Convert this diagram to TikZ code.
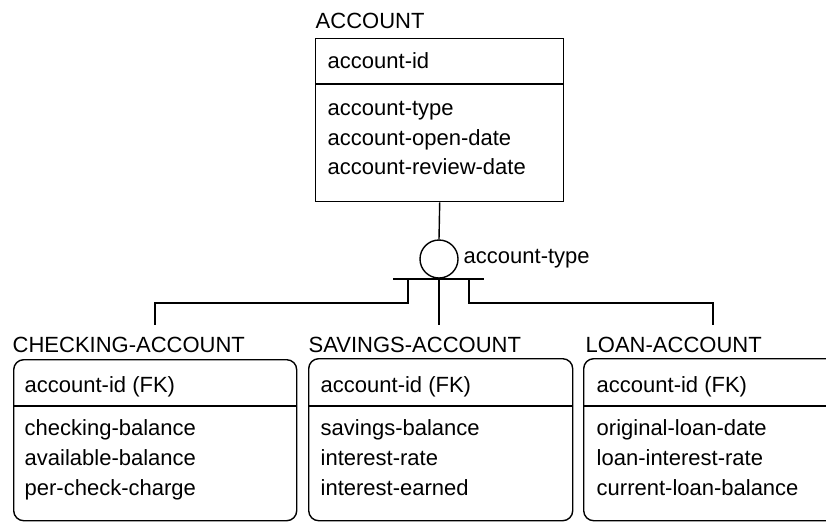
\documentclass[tikz,border=0pt]{standalone}
\usepackage{fontspec}
\setmainfont{Liberation Sans}
\begin{document}
\begin{tikzpicture}[x=1pt,y=-1pt,
  line width=1.4pt,
  txt/.style={inner sep=0pt, anchor=base west, font=\fontsize{22}{26}\selectfont},
  ent/.style={draw, anchor=north west, inner sep=0pt},
  rent/.style={ent, rounded corners=10pt},
  conn/.style={draw, line width=1.4pt}]
\useasboundingbox (0,0) rectangle (826,523);
\clip (0,0) rectangle (826,523);
% ACCOUNT
\node[txt] (accT) at (315,28) {ACCOUNT};
\node[ent, minimum width=248pt, minimum height=163pt] (acc) at (315,38) {};
\draw (315,84) -- (563,84);
\node[txt] (acc1) at (327,68) {account-id};
\node[txt] (acc2) at (327,115) {account-type};
\node[txt] (acc3) at (327,145) {account-open-date};
\node[txt] (acc4) at (327,174) {account-review-date};
% category
\node[draw, circle, minimum size=38pt, inner sep=0pt] (cat) at (439,259) {};
\node[txt] (catL) at (463,263) {account-type};
\coordinate (barL) at (393,279);
\coordinate (barR) at (484,279);
\draw (barL) -- (barR);
\draw (acc.south) -- (cat.north);
% CHECKING
\node[txt] (chkT) at (12,352) {CHECKING-ACCOUNT};
\node[rent, minimum width=283pt, minimum height=161pt] (chk) at (13,359) {};
\draw (13,406) -- (296,406);
\node[txt] (chk1) at (24,392) {account-id (FK)};
\node[txt] (chk2) at (24,435) {checking-balance};
\node[txt] (chk3) at (24,465) {available-balance};
\node[txt] (chk4) at (24,495) {per-check-charge};
% SAVINGS
\node[txt] (savT) at (308,352) {SAVINGS-ACCOUNT};
\node[rent, minimum width=264pt, minimum height=162pt] (sav) at (308,358) {};
\draw (308,406) -- (572,406);
\node[txt] (sav1) at (320,392) {account-id (FK)};
\node[txt] (sav2) at (320,435) {savings-balance};
\node[txt] (sav3) at (320,465) {interest-rate};
\node[txt] (sav4) at (320,495) {interest-earned};
% LOAN
\node[txt] (loaT) at (585,352) {LOAN-ACCOUNT};
\node[rent, minimum width=280pt, minimum height=162pt] (loa) at (583,358) {};
\draw (583,406) -- (863,406);
\node[txt] (loa1) at (596,392) {account-id (FK)};
\node[txt] (loa2) at (596,435) {original-loan-date};
\node[txt] (loa3) at (596,465) {loan-interest-rate};
\node[txt] (loa4) at (596,495) {current-loan-balance};
% connectors
\coordinate (chkE) at (155,325);
\coordinate (savE) at (439,325);
\coordinate (loaE) at (713,325);
\draw (408,279) |- (155,303) -- (chkE);
\draw (439,279) -- (savE);
\draw (469,279) |- (713,303) -- (loaE);
\end{tikzpicture}
\end{document}
